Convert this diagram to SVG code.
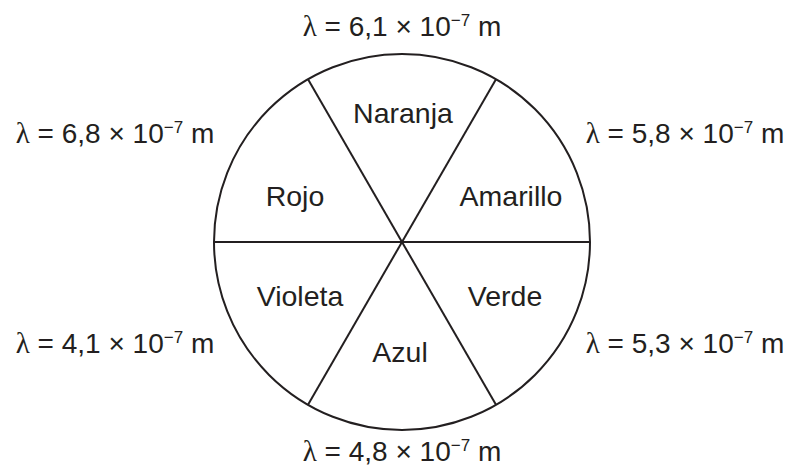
<svg xmlns="http://www.w3.org/2000/svg" width="794" height="468" viewBox="0 0 794 468">
<style>
.lbl{font-family:"Liberation Sans",Arial,sans-serif;font-size:28.5px;fill:#231f20;text-anchor:middle}
.wl{font-family:"Liberation Sans",Arial,sans-serif;font-size:28px;fill:#231f20;text-anchor:middle}
.lam{font-family:"Liberation Serif","DejaVu Serif",serif;font-size:29px}
.sup{font-size:17px}
.ln{stroke:#231f20;stroke-width:2;fill:none}
</style>
<rect width="794" height="468" fill="#fff"/>
<g id="wheel">
<circle class="ln" cx="402" cy="242" r="188"/>
</g>
<g id="connectors">
<line class="ln" x1="214" y1="242" x2="590" y2="242"/>
<line class="ln" x1="308" y1="79.2" x2="496" y2="404.8"/>
<line class="ln" x1="496" y1="79.2" x2="308" y2="404.8"/>
</g>
<g id="naranja"><text class="lbl" x="403" y="123">Naranja</text></g>
<g id="rojo"><text class="lbl" x="295" y="206">Rojo</text></g>
<g id="amarillo"><text class="lbl" x="511" y="206">Amarillo</text></g>
<g id="violeta"><text class="lbl" x="300" y="306">Violeta</text></g>
<g id="verde"><text class="lbl" x="505" y="306">Verde</text></g>
<g id="azul"><text class="lbl" x="400" y="362">Azul</text></g>
<g id="wl-top"><text class="wl" x="402" y="36"><tspan class="lam">λ</tspan> = 6,1 × 10<tspan class="sup" dy="-10">−7</tspan><tspan dy="10"> m</tspan></text></g>
<g id="wl-lt"><text class="wl" x="115" y="143"><tspan class="lam">λ</tspan> = 6,8 × 10<tspan class="sup" dy="-10">−7</tspan><tspan dy="10"> m</tspan></text></g>
<g id="wl-rt"><text class="wl" x="685" y="143"><tspan class="lam">λ</tspan> = 5,8 × 10<tspan class="sup" dy="-10">−7</tspan><tspan dy="10"> m</tspan></text></g>
<g id="wl-lb"><text class="wl" x="115" y="353"><tspan class="lam">λ</tspan> = 4,1 × 10<tspan class="sup" dy="-10">−7</tspan><tspan dy="10"> m</tspan></text></g>
<g id="wl-rb"><text class="wl" x="685" y="353"><tspan class="lam">λ</tspan> = 5,3 × 10<tspan class="sup" dy="-10">−7</tspan><tspan dy="10"> m</tspan></text></g>
<g id="wl-bot"><text class="wl" x="402" y="461"><tspan class="lam">λ</tspan> = 4,8 × 10<tspan class="sup" dy="-10">−7</tspan><tspan dy="10"> m</tspan></text></g>
</svg>
